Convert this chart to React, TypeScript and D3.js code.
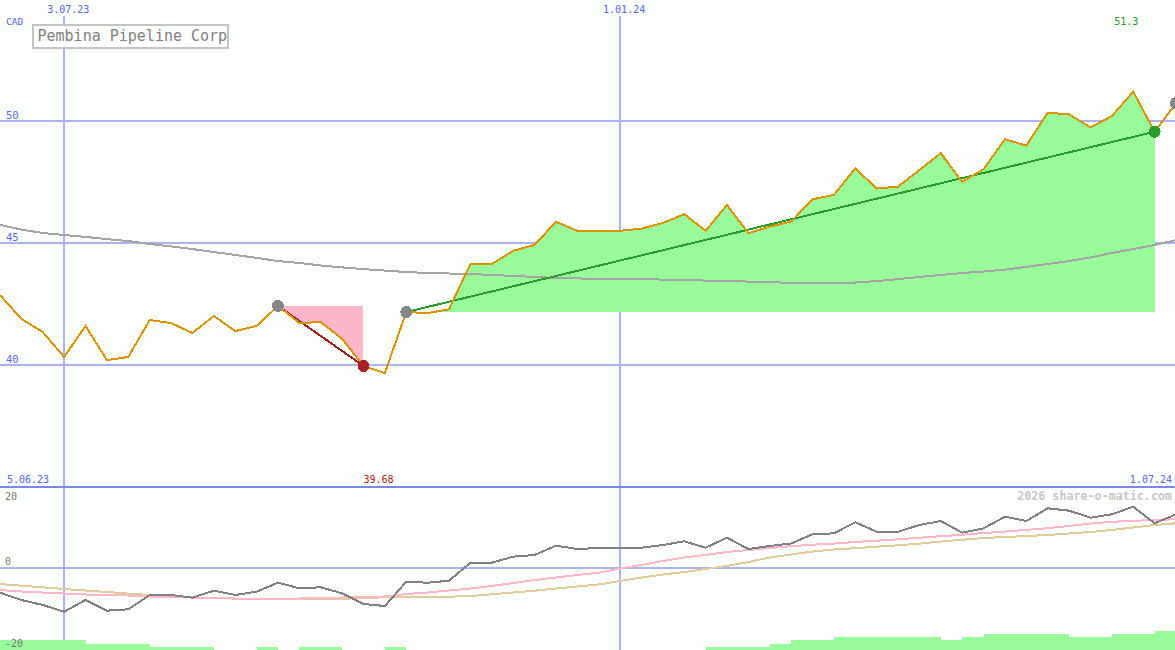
import { area, line, scaleLinear, scaleTime, timeMonday } from "d3";

const width = 1175;
const height = 650;

// weekly closes, Mondays 12.06.23 .. 1.07.24
const closes = [
  42.87, 41.89, 41.35, 40.33, 41.6, 40.2, 40.33, 41.84, 41.72, 41.31,
  42.01, 41.39, 41.6, 42.42, 41.72, 41.76, 41.07, 39.96, 39.67, 42.17,
  42.13, 42.28, 44.14, 44.14, 44.68, 44.92, 45.87, 45.5, 45.5, 45.5,
  45.59, 45.82, 46.18, 45.5, 46.56, 45.4, 45.67, 45.88, 46.79, 46.97,
  48.06, 47.23, 47.31, 47.99, 48.68, 47.51, 48.02, 49.25, 48.99, 50.34,
  50.27, 49.74, 50.2, 51.2, 49.56, 50.73
];

const longAverage = [
  45.74, 45.55, 45.41, 45.33, 45.25, 45.16, 45.08, 44.96, 44.86, 44.75,
  44.63, 44.51, 44.39, 44.26, 44.18, 44.08, 44.0, 43.93, 43.87, 43.81,
  43.77, 43.75, 43.73, 43.69, 43.65, 43.61, 43.57, 43.55, 43.52, 43.52,
  43.52, 43.5, 43.48, 43.46, 43.44, 43.42, 43.4, 43.36, 43.36, 43.36,
  43.38, 43.44, 43.52, 43.61, 43.69, 43.77, 43.83, 43.91, 44.02, 44.14,
  44.26, 44.41, 44.59, 44.75, 44.92, 45.12
];

const momentum = [
  -6.02, -7.8, -9.02, -10.66, -7.8, -10.41, -10.07, -6.59, -6.59, -7.24,
  -5.54, -6.59, -5.78, -3.59, -4.95, -4.71, -6.17, -8.78, -9.27, -3.34,
  -3.59, -3.1, 1.29, 1.29, 2.76, 3.17, 5.44, 4.63, 4.88, 4.88,
  4.95, 5.61, 6.51, 4.95, 7.39, 4.63, 5.37, 5.98, 8.22, 8.46,
  11.15, 8.85, 8.85, 10.49, 11.46, 8.61, 9.68, 12.51, 11.46, 14.56,
  13.98, 12.27, 13.1, 14.95, 10.9, 13.1
];

const momentumFast = [
  -5.37, -5.73, -5.98, -6.22, -6.46, -6.59, -6.71, -6.95, -7.07, -7.2,
  -7.32, -7.44, -7.56, -7.56, -7.44, -7.32, -7.2, -7.07, -6.95, -6.34,
  -5.98, -5.49, -5.0, -4.39, -3.66, -2.93, -2.32, -1.71, -1.15, -0.12,
  0.73, 1.71, 2.56, 3.17, 3.9, 4.39, 4.88, 5.32, 5.68, 5.95,
  6.34, 6.66, 7.0, 7.37, 7.76, 8.12, 8.51, 8.9, 9.29, 9.71,
  10.24, 10.85, 11.27, 11.51, 11.71, 11.88
];

const momentumSlow = [
  -3.9, -4.32, -4.71, -5.12, -5.49, -5.85, -6.24, -6.59, -6.9, -7.17,
  -7.32, -7.46, -7.61, -7.63, -7.63, -7.63, -7.51, -7.32, -7.15, -7.0,
  -7.0, -7.0, -6.83, -6.41, -5.98, -5.54, -5.0, -4.51, -4.02, -3.17,
  -2.32, -1.59, -0.98, -0.24, 0.49, 1.46, 2.56, 3.29, 4.02, 4.51,
  4.83, 5.2, 5.54, 5.93, 6.46, 6.88, 7.32, 7.56, 7.8, 8.05,
  8.41, 8.78, 9.27, 9.88, 10.49, 10.9
];

const strength = [
  3, 3, 3, 3, 2, 2, 2, 1, 1, 1,
  0, 0, 1, 0, 1, 1, 0, 0, 1, 0,
  0, 0, 0, 0, 0, 0, 0, 0, 0, 0,
  0, 0, 0, 1, 1, 1, 2, 3, 3, 4,
  4, 4, 4, 4, 3, 4, 5, 5, 5, 5,
  4, 4, 5, 5, 6, 6
];

const priceTicks = [40, 45, 50];
const lowerTicks = [20, 0, -20];
const dateTicks = [new Date(2023, 6, 3), new Date(2024, 0, 1)];
const dateTickLabels = ["3.07.23", "1.01.24"];

const drawdown = { from: 13, to: 17 };
const rally = { from: 19, to: 54 };
const markers = [13, 19, 55];

const dates = timeMonday.range(new Date(2023, 5, 12), new Date(2024, 6, 2));

const gridColor = "#a8b4f4";
const labelBlue = "#5565f0";
const mono = "'DejaVu Sans Mono', monospace";

export default function App(): React.JSX.Element {
  const x = scaleTime()
    .domain([new Date(2023, 5, 12), new Date(2024, 6, 1)])
    .range([0, 1176]);
  const y = scaleLinear().domain([40, 50]).range([365, 121]);
  const yLow = scaleLinear().domain([-20, 20]).range([650, 486]);
  const barH = scaleLinear().domain([0, 6]).range([0, 19.3]);

  const xi = (i: number) => x(dates[i]);
  const idx = closes.map((_, i) => i);

  const priceLine = line<number>()
    .x((i) => xi(i))
    .y((i) => y(closes[i]));
  const seriesLine = (values: number[], scale: (v: number) => number) =>
    line<number>()
      .x((i) => xi(i))
      .y((i) => scale(values[i]))(idx) ?? "";

  const spanArea = (from: number, to: number) => {
    const base = y(closes[from]);
    const range = idx.slice(from, to + 1);
    return (
      area<number>()
        .x((i) => xi(i))
        .y0(base)
        .y1((i) => y(closes[i]))(range) ?? ""
    );
  };

  return (
    <svg
      width={width}
      height={height}
      shapeRendering="crispEdges"
      style={{ position: "absolute", left: 0, top: 0, background: "#fcfefc" }}
    >
      <rect width={width} height={height} fill="#fcfefc" />
      <defs>
        <clipPath id="lowClip">
          <rect x={0} y={488} width={width} height={162} />
        </clipPath>
      </defs>

      {/* grid */}
      {priceTicks.map((t) => (
        <g key={t}>
          <line x1={0} x2={width} y1={y(t)} y2={y(t)} stroke={gridColor} strokeWidth={2} />
          <text x={6} y={y(t) - 2} fill={labelBlue} fontFamily={mono} fontSize={10.5}>
            {t}
          </text>
        </g>
      ))}
      {dateTicks.map((d, k) => (
        <g key={dateTickLabels[k]}>
          <line x1={x(d)} x2={x(d)} y1={16} y2={height} stroke={gridColor} strokeWidth={2} />
          <text x={x(d) - 17} y={13} fill={labelBlue} fontFamily={mono} fontSize={10}>
            {dateTickLabels[k]}
          </text>
        </g>
      ))}
      <line x1={0} x2={width} y1={yLow(0)} y2={yLow(0)} stroke={gridColor} strokeWidth={2} />
      <line x1={0} x2={width} y1={487} y2={487} stroke="#7a88ec" strokeWidth={2} />

      {/* strength bars */}
      {strength.map((s, i) =>
        s > 0 ? (
          <rect
            key={i}
            x={xi(i)}
            y={height - barH(s)}
            width={(i + 1 < dates.length ? xi(i + 1) : xi(i) + 21.4) - xi(i)}
            height={barH(s)}
            fill="#98fa98"
          />
        ) : null
      )}

      {/* lower panel lines */}
      <g clipPath="url(#lowClip)" fill="none" strokeWidth={2}>
        <path d={seriesLine(momentumSlow, yLow)} stroke="#e2cb9a" />
        <path d={seriesLine(momentumFast, yLow)} stroke="#ffb6c8" />
        <path d={seriesLine(momentum, yLow)} stroke="#808080" />
      </g>

      {/* drawdown / rally fills */}
      <path d={spanArea(drawdown.from, drawdown.to)} fill="#fbb6c9" />
      <path d={spanArea(rally.from, rally.to)} fill="#98fa98" />

      <path d={seriesLine(longAverage, y)} fill="none" stroke="#a4a4a4" strokeWidth={2} />

      <line
        x1={xi(drawdown.from)}
        y1={y(closes[drawdown.from])}
        x2={xi(drawdown.to)}
        y2={y(closes[drawdown.to])}
        stroke="#a01c1c"
        strokeWidth={2}
      />
      <line
        x1={xi(rally.from)}
        y1={y(closes[rally.from])}
        x2={xi(rally.to)}
        y2={y(closes[rally.to])}
        stroke="#2a9a2a"
        strokeWidth={2}
      />

      <path d={priceLine(idx) ?? ""} fill="none" stroke="#dd9200" strokeWidth={2} />

      {markers.map((i) => (
        <circle key={i} cx={xi(i)} cy={y(closes[i])} r={6} fill="#878787" />
      ))}
      <circle cx={xi(drawdown.to)} cy={y(closes[drawdown.to])} r={6} fill="#a82020" />
      <circle cx={xi(rally.to)} cy={y(closes[rally.to])} r={6} fill="#2a9a2a" />

      {/* labels */}
      <text x={6} y={25} fill={labelBlue} fontFamily={mono} fontSize={9.5}>
        CAD
      </text>
      <rect x={33} y={25} width={195} height={23} fill="#fcfefc" stroke="#c4c4c4" strokeWidth={2} />
      <text x={37.5} y={41} fill="#808080" fontFamily={mono} fontSize={15}>
        Pembina Pipeline Corp
      </text>
      <text x={xi(53) - 7} y={25} textAnchor="middle" fill="#2a9a2a" fontFamily={mono} fontSize={10}>
        51.3
      </text>
      <text x={7} y={483} fill={labelBlue} fontFamily={mono} fontSize={10}>
        5.06.23
      </text>
      <text x={xi(drawdown.to)} y={483} fill="#a82020" fontFamily={mono} fontSize={10}>
        39.68
      </text>
      <text x={1172} y={483} textAnchor="end" fill={labelBlue} fontFamily={mono} fontSize={10}>
        1.07.24
      </text>
      <text
        x={1172}
        y={500}
        textAnchor="end"
        fill="#c8c8c8"
        fontWeight="bold"
        fontFamily={mono}
        fontSize={11.7}
      >
        2026 share-o-matic.com
      </text>
      {lowerTicks.map((t) => (
        <text
          key={t}
          x={5}
          y={t === 20 ? 500 : t === 0 ? 565 : 647}
          fill="#777777"
          fontFamily={mono}
          fontSize={10}
        >
          {t}
        </text>
      ))}
    </svg>
  );
}
